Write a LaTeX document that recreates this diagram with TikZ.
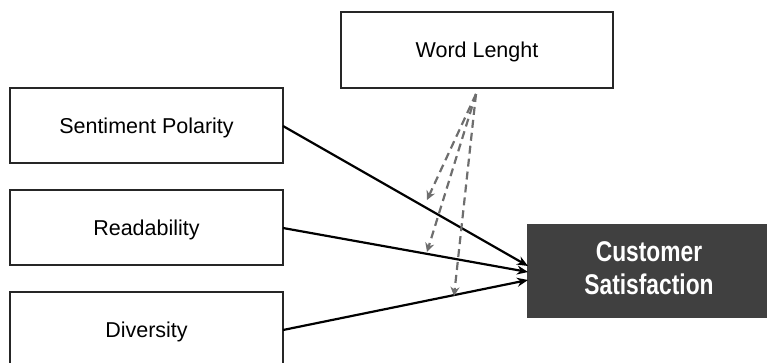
\documentclass[tikz,border=0pt]{standalone}
\usepackage{fontspec}
\setmainfont{Liberation Sans}
\newfontfamily\condbold[FakeStretch=0.8]{Liberation Sans Bold}
\usetikzlibrary{arrows.meta}
\definecolor{boxdark}{HTML}{404040}
\definecolor{dashgray}{HTML}{6E6E6E}
\tikzset{
  factor/.style={draw=black!85, line width=1.5pt, fill=white, inner sep=0pt},
  label/.style={font=\fontsize{21.5}{24}\selectfont},
  effect/.style={line width=2.2pt, -{Stealth[length=11pt,width=9pt]}},
  moderation/.style={dashgray, line width=2.2pt, dash pattern=on 8pt off 5pt,
    -{Stealth[length=9pt,width=9pt]}},
}
\begin{document}
\begin{tikzpicture}[x=1pt,y=-1pt]
  \useasboundingbox (0,0) rectangle (767,362);
  % predictors
  \draw[factor] (10,88) rectangle (283,163);
  \node[label] (sp) at (146.5,128) {Sentiment Polarity};
  \coordinate (spR) at (283,126);
  \draw[factor] (10,190) rectangle (283,265);
  \node[label] (rd) at (146.5,229.5) {Readability};
  \coordinate (rdR) at (283,228);
  \draw[factor] (10,292) rectangle (283,368);
  \node[label] (dv) at (146.5,331.5) {Diversity};
  \coordinate (dvR) at (283,330);
  % moderator
  \draw[factor] (341,12) rectangle (613,88);
  \node[label] (wl) at (477,51.5) {Word Lenght};
  \coordinate (wlB) at (476,94);
  % outcome
  \fill[boxdark] (527,224) rectangle (767,318);
  \node[text=white, align=center, font=\condbold\fontsize{28.5}{33}\selectfont] (cs) at (649,268) {Customer\\Satisfaction};
  \coordinate (csA) at (528,266);
  \coordinate (csB) at (528,272);
  \coordinate (csC) at (528,280);
  % direct effects
  \draw[effect] (spR) -- (csA);
  \draw[effect] (rdR) -- (csB);
  \draw[effect] (dvR) -- (csC);
  % moderating effects
  \coordinate (m1) at (427,200);
  \coordinate (m2) at (427,252);
  \coordinate (m3) at (454,296);
  \draw[moderation] (wlB) -- (m1);
  \draw[moderation] (wlB) -- (m2);
  \draw[moderation] (wlB) -- (m3);
\end{tikzpicture}
\end{document}
